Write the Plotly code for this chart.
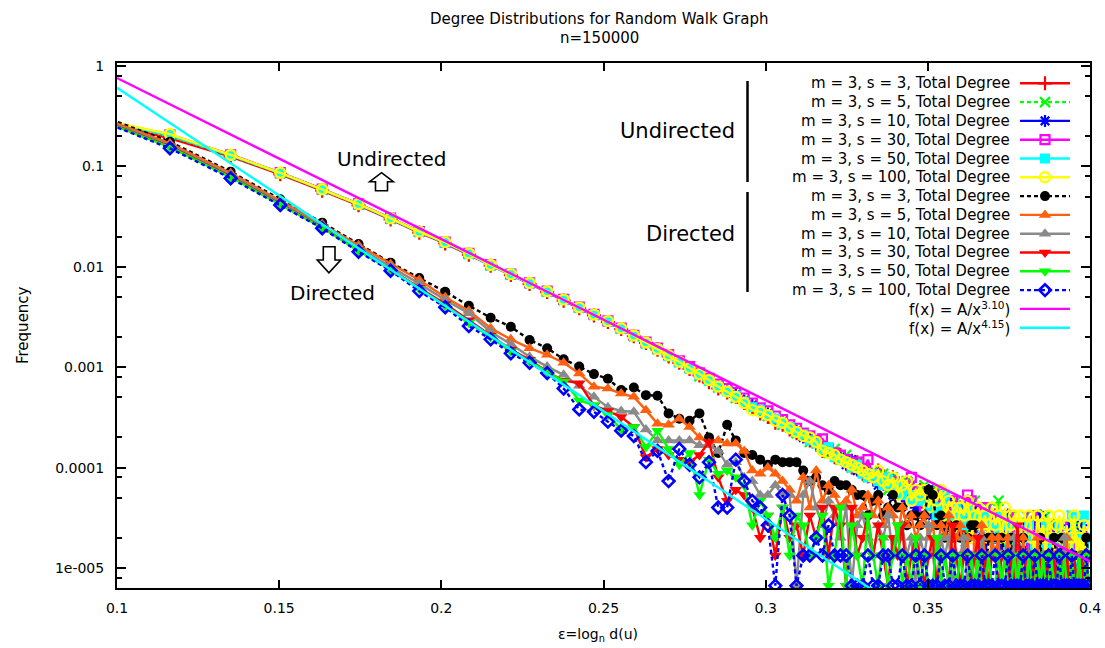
import numpy as np
import plotly.graph_objects as go

# ---------------------------------------------------------------------------
# Degree distributions (node counts per degree) for n = 150000 nodes
# ---------------------------------------------------------------------------
N = 150000

DEGREES = [3, 4, 5, 6, 7, 8, 9, 10, 11, 12,
           13, 14, 15, 16, 17, 18, 19, 20, 21, 22,
           23, 24, 25, 26, 27, 28, 29, 30, 31, 32,
           33, 34, 35, 36, 37, 38, 39, 40, 41, 42,
           43, 44, 45, 46, 47, 48, 49, 50, 51, 52,
           53, 54, 55, 56, 57, 58, 59, 60, 61, 62,
           63, 64, 65, 66, 67, 68, 69, 70, 71, 72,
           73, 74, 75, 76, 77, 78, 79, 80, 81, 82,
           83, 84, 85, 86, 87, 88, 89, 90, 91, 92,
           93, 94, 95, 96, 97, 98, 99, 100, 101, 102,
           103, 104, 105, 106, 107, 108, 109, 110, 111, 112,
           113, 114, 115, 116, 117]

# Undirected graphs, m = 3
UND_S3 = [44000, 28500, 18800, 12500, 8600, 6150, 4450, 3280, 2560, 1980,
          1540, 1240, 1010, 840, 690, 580, 492, 422, 360, 305,
          262, 224, 192, 166, 144, 124, 106, 92, 84, 76,
          66, 58, 52, 48, 42, 40, 36, 33, 31, 28,
          26, 22, 23, 19, 20, 17, 15, 17, 13, 14,
          12, 14, 11, 10, 12, 9, 10, 8, 9, 7,
          9, 8, 6, 8, 5, 7, 7, 4, 6, 5,
          6, 3, 5, 6, 2, 5, 4, 5, 3, 4,
          5, 2, 4, 3, 5, 1, 3, 4, 2, 3,
          2, 4, 1, 3, 2, 4, 1, 2, 3, 1,
          2, 3, 1, 2, 2, 1, 3, 1, 2, 1,
          2, 1, 2, 3, 1]
UND_S5 = [45500, 30000, 19200, 12800, 8800, 6250, 4520, 3330, 2600, 2010,
          1555, 1255, 1025, 848, 702, 588, 498, 428, 362, 306,
          258, 226, 196, 168, 146, 122, 110, 94, 88, 74,
          70, 60, 56, 49, 46, 40, 38, 33, 32, 27,
          29, 24, 21, 23, 18, 20, 15, 17, 14, 12,
          14, 11, 13, 9, 12, 10, 8, 11, 7, 9,
          8, 10, 6, 7, 9, 5, 7, 6, 4, 7,
          5, 6, 3, 5, 7, 4, 3, 5, 6, 2,
          4, 7, 3, 4, 2, 5, 3, 2, 4, 3,
          5, 2, 3, 1, 4, 2, 3, 5, 2, 1,
          3, 2, 4, 1, 2, 3, 1, 5, 2, 1,
          4, 2, 1, 3, 2]
UND_S10 = [45000, 30800, 19400, 12900, 8850, 6300, 4550, 3350, 2620, 2020,
           1560, 1262, 1030, 852, 705, 590, 500, 430, 364, 309,
           262, 230, 194, 171, 148, 128, 112, 97, 88, 80,
           70, 63, 55, 52, 45, 43, 37, 35, 30, 29,
           26, 25, 22, 20, 19, 16, 18, 14, 15, 12,
           13, 10, 12, 11, 8, 10, 9, 7, 10, 6,
           8, 7, 9, 5, 6, 8, 4, 7, 5, 6,
           4, 6, 5, 3, 6, 4, 5, 2, 4, 5,
           3, 4, 2, 5, 3, 4, 1, 3, 2, 4,
           3, 1, 4, 2, 3, 5, 2, 1, 3, 2,
           4, 1, 2, 3, 1, 2, 4, 2, 1, 3,
           2, 4, 1, 2, 1]
UND_S30 = [45500, 31000, 19600, 13000, 8900, 6350, 4580, 3370, 2640, 2040,
           1575, 1270, 1040, 860, 710, 596, 505, 435, 368, 312,
           266, 232, 200, 174, 152, 132, 116, 102, 92, 84,
           74, 66, 59, 55, 49, 45, 40, 37, 33, 31,
           28, 29, 23, 21, 20, 18, 16, 17, 14, 18,
           12, 13, 11, 10, 11, 9, 10, 8, 12, 7,
           9, 6, 8, 7, 5, 8, 6, 5, 7, 4,
           6, 5, 8, 7, 3, 5, 4, 6, 3, 4,
           5, 3, 4, 2, 5, 3, 4, 2, 3, 4,
           2, 3, 5, 2, 4, 1, 3, 2, 4, 2,
           3, 2, 1, 4, 2, 3, 2, 1, 3, 2,
           1, 3, 2, 1, 2]
UND_S50 = [45200, 30600, 19300, 12850, 8820, 6280, 4530, 3340, 2610, 2015,
           1550, 1258, 1028, 846, 700, 586, 497, 428, 361, 306,
           260, 226, 193, 168, 145, 126, 110, 96, 86, 78,
           68, 60, 56, 50, 46, 41, 38, 34, 32, 28,
           26, 23, 24, 19, 18, 17, 15, 16, 13, 12,
           13, 11, 10, 12, 9, 10, 8, 9, 7, 8,
           7, 8, 6, 7, 5, 6, 8, 5, 4, 6,
           5, 4, 6, 3, 5, 4, 3, 5, 4, 2,
           4, 3, 5, 2, 4, 3, 2, 4, 3, 2,
           3, 4, 2, 3, 1, 3, 2, 4, 2, 3,
           2, 3, 4, 1, 2, 3, 2, 5, 1, 2,
           3, 1, 5, 2, 3]
UND_S100 = [45800, 31500, 19500, 12950, 8870, 6330, 4560, 3360, 2640, 2040,
            1565, 1268, 1035, 856, 706, 592, 502, 432, 366, 310,
            264, 228, 197, 170, 147, 128, 112, 96, 86, 76,
            66, 56, 54, 50, 44, 42, 37, 34, 31, 30,
            27, 22, 21, 20, 18, 17, 16, 15, 14, 13,
            12, 14, 11, 10, 12, 8, 10, 11, 7, 9,
            8, 9, 6, 8, 7, 9, 5, 7, 6, 4,
            6, 5, 7, 3, 5, 6, 4, 5, 3, 6,
            4, 5, 3, 6, 2, 4, 5, 3, 5, 2,
            4, 5, 3, 2, 5, 3, 4, 2, 5, 3,
            2, 4, 5, 3, 2, 4, 1, 3, 5, 2,
            3, 2, 4, 1, 2]

# Directed graphs, m = 3
DIR_S3 = [52000, 26400, 13300, 7060, 4130, 2530, 1650, 1160, 848, 615,
          467, 380, 280, 232, 180, 152, 128, 115, 89, 94,
          79, 78, 52, 46, 44, 52, 30, 21, 40, 28,
          21, 20, 18, 16, 18, 17, 17, 17, 14, 11,
          12, 10, 9, 11, 10, 10, 9, 8, 8, 5,
          7, 8, 5, 6, 8, 6, 6, 4, 5, 5,
          4, 5, 9, 8, 4, 5, 3, 4, 3, 4,
          3, 2, 3, 4, 4, 2, 3, 1, 3, 3,
          2, 3, 3, 2, 1, 3, 2, 1, 2, 3,
          2, 1, 2, 2, 1, 3, 1, 2, 1, 2,
          3, 2, 1, 3, 1, 2, 1, 1, 2, 1,
          1, 2, 1, 3, 2]
DIR_S5 = [50000, 25500, 12900, 6850, 4000, 2460, 1600, 1110, 745, 547,
          366, 284, 232, 199, 166, 130, 96, 92, 82, 76,
          56, 41, 40, 46, 38, 30, 26, 28, 26, 26,
          22, 14, 13, 15, 13, 11, 9, 7, 12, 6,
          14, 7, 10, 8, 6, 7, 9, 5, 6, 8,
          5, 7, 4, 6, 5, 3, 6, 4, 5, 3,
          4, 5, 3, 4, 2, 4, 3, 5, 2, 3,
          4, 2, 3, 1, 3, 2, 4, 2, 1, 3,
          2, 3, 1, 2, 3, 1, 2, 2, 1, 3,
          1, 2, 2, 1, 3, 1, 2, 1, 2, 1,
          2, 1, 1, 2, 1, 3, 1, 2, 1, 1,
          2, 1, 1, 2, 1]
DIR_S10 = [48000, 24500, 12300, 6550, 3850, 2330, 1510, 1020, 700, 516,
           339, 255, 191, 152, 126, 98, 76, 60, 55, 54,
           36, 28, 28, 28, 28, 25, 25, 22, 16, 17,
           12, 11, 8, 8, 10, 8, 8, 1, 8, 11,
           6, 4, 7, 5, 3, 6, 1, 4, 5, 3,
           2, 4, 3, 5, 2, 3, 4, 2, 3, 1,
           3, 2, 4, 2, 1, 3, 2, 3, 1, 2,
           2, 3, 1, 2, 2, 1, 3, 1, 2, 1,
           1, 2, 1, 1, 2, 1, 3, 1, 2, 1,
           2, 1, 1, 2, 1, 1, 2, 1, 1, 2,
           1, 1, 2, 1, 3, 1, 1, 2, 1, 1,
           1, 2, 1, 1, 2]
DIR_S30 = [47000, 23800, 11900, 6350, 3720, 2200, 1420, 930, 640, 440,
           310, 225, 178, 135, 110, 104, 62, 55, 48, 38,
           19, 23, 20, 18, 17, 20, 27, 12, 7, 9,
           8, 6, 3, 5, 2, 6, 3, 4, 2, 5,
           3, 6, 2, 6, 4, 1, 6, 2, 3, 5,
           2, 4, 2, 1, 3, 2, 4, 1, 2, 3,
           2, 1, 2, 3, 1, 2, 2, 1, 4, 2,
           1, 2, 2, 1, 2, 3, 1, 2, 1, 2,
           2, 1, 2, 2, 1, 2, 1, 4, 2, 1,
           2, 2, 1, 2, 1, 2, 2, 1, 2, 1,
           2, 1, 2, 2, 1, 2, 1, 2, 2, 1,
           2, 2, 1, 2, 2]
DIR_S50 = [46500, 23300, 11700, 6270, 3680, 2160, 1400, 900, 615, 415,
           300, 215, 172, 135, 108, 70, 63, 50, 36, 38,
           24, 35, 23, 16, 21, 8, 18, 13, 14, 12,
           10, 4, 7, 5, 3, 6, 2, 5, 4, 2,
           3, 5, 1, 2, 6, 1, 4, 2, 1, 5,
           2, 1, 3, 1, 2, 4, 1, 2, 1, 3,
           1, 2, 1, 1, 3, 1, 2, 1, 2, 1,
           2, 1, 1, 2, 1, 2, 1, 1, 2, 1,
           1, 2, 1, 2, 1, 1, 2, 1, 2, 1,
           1, 2, 1, 1, 2, 1, 2, 1, 1, 2,
           1, 1, 2, 1, 2, 1, 1, 2, 1, 1,
           2, 1, 1, 2, 1]
DIR_S100 = [46300, 22700, 11430, 6190, 3630, 2120, 1372, 860, 593, 386,
            284, 206, 166, 131, 92, 57, 54, 43, 35, 31,
            17, 22, 11, 23, 16, 12, 17, 6, 6, 18,
            11, 7, 6, 4, 1, 8, 5, 1, 2, 2,
            3, 2, 4, 2, 2, 2, 1, 1, 1, 2,
            1, 1, 2, 2, 1, 1, 2, 1, 1, 2,
            1, 2, 1, 1, 1, 2, 1, 1, 2, 1,
            1, 1, 2, 1, 1, 1, 2, 1, 1, 1,
            2, 1, 1, 1, 2, 1, 1, 1, 1, 2,
            1, 1, 1, 2, 1, 1, 1, 1, 2, 1,
            1, 1, 2, 1, 1, 1, 1, 2, 1, 1,
            1, 1, 1, 2, 1]

# Power-law fits f(x) = A / x^p in the degree x
FIT_UND_A, FIT_UND_P = 30.55, 3.10
FIT_DIR_A, FIT_DIR_P = 85.5, 4.15

LABELS = ["m = 3, s = 3, Total Degree", "m = 3, s = 5, Total Degree",
          "m = 3, s = 10, Total Degree", "m = 3, s = 30, Total Degree",
          "m = 3, s = 50, Total Degree", "m = 3, s = 100, Total Degree"]
FIT_LABELS = ["f(x) = A/x<sup>3.10</sup>)", "f(x) = A/x<sup>4.15</sup>)"]

# ---------------------------------------------------------------------------
FONT = "DejaVu Sans"
ORANGE = "#ff6010"
GRAY = "#8a8a8a"
LW = 2.4

# (counts, colour, dash, marker symbol, marker size, marker outline width)
STYLES = [
    (UND_S3, "#ff0000", "solid", "cross-thin-open", 10, 2.2),
    (UND_S5, "#00ff00", "4px,3px", "x-thin-open", 10, 2.2),
    (UND_S10, "#0000ff", "solid", "asterisk-open", 10, 2.2),
    (UND_S30, "#ff00ff", "solid", "square-open", 9, 2.2),
    (UND_S50, "#00ffff", "solid", "square", 10, 0),
    (UND_S100, "#ffff00", "solid", "circle-open", 10, 2.4),
    (DIR_S3, "#000000", "4px,3px", "circle", 10, 0),
    (DIR_S5, ORANGE, "solid", "triangle-up", 11, 0),
    (DIR_S10, GRAY, "solid", "triangle-up", 11, 0),
    (DIR_S30, "#ff0000", "solid", "triangle-down", 11, 0),
    (DIR_S50, "#00ff00", "solid", "triangle-down", 11, 0),
    (DIR_S100, "#0000ff", "4px,3px", "diamond-open", 9, 2.6),
]

# Plot-area geometry in page pixels
L, R, T, B = 117, 1090, 63, 588
W, H = R - L, B - T


def xp(px):
    return (px - L) / W


def yp(py):
    return (B - py) / H


deg = np.array(DEGREES, dtype=float)
eps = np.log(deg) / np.log(N)

fig = go.Figure()

for counts, color, dash, sym, size, mlw in STYLES:
    freq = np.array(counts, dtype=float) / N
    fig.add_trace(go.Scatter(
        x=eps, y=freq, mode="lines+markers",
        line=dict(color=color, width=LW, dash=dash),
        marker=dict(symbol=sym, size=size, color=color,
                    line=dict(color=color, width=mlw)),
        showlegend=False, hoverinfo="skip"))

# fitted power laws, drawn over the full x range
eps_fit = np.linspace(0.1, 0.4, 31)
for a, p, color in [(FIT_UND_A, FIT_UND_P, "#ff00ff"),
                    (FIT_DIR_A, FIT_DIR_P, "#00ffff")]:
    fig.add_trace(go.Scatter(
        x=eps_fit, y=a / (N ** eps_fit) ** p, mode="lines",
        line=dict(color=color, width=LW),
        showlegend=False, hoverinfo="skip"))

# ---------------------------------------------------------------------------
# Key (gnuplot style: right-aligned text with the sample to its right)
ROW0, ROWSTEP = 83.3, 18.8
TXT_RIGHT, SAMP_L, SAMP_R = 1012, 1020, 1070
annotations = []
shapes = []

key_items = [(LABELS[i], STYLES[i]) for i in range(6)] + \
            [(LABELS[i], STYLES[6 + i]) for i in range(6)]
for row, (label, (_, color, dash, sym, size, mlw)) in enumerate(key_items):
    ry = ROW0 + ROWSTEP * row
    fig.add_trace(go.Scatter(
        x=[SAMP_L, SAMP_R], y=[ry, ry], xaxis="x2", yaxis="y2", mode="lines",
        line=dict(color=color, width=LW, dash=dash),
        showlegend=False, hoverinfo="skip"))
    fig.add_trace(go.Scatter(
        x=[(SAMP_L + SAMP_R) / 2], y=[ry], xaxis="x2", yaxis="y2",
        mode="markers",
        marker=dict(symbol=sym, size=size, color=color,
                    line=dict(color=color, width=mlw)),
        showlegend=False, hoverinfo="skip"))
    annotations.append(dict(
        x=xp(TXT_RIGHT), y=yp(ry), xref="paper", yref="paper",
        text=label, showarrow=False, xanchor="right", yanchor="middle",
        font=dict(family=FONT, size=15, color="black")))

for row, (label, color) in enumerate(zip(FIT_LABELS, ["#ff00ff", "#00ffff"])):
    ry = ROW0 + ROWSTEP * (12 + row)
    fig.add_trace(go.Scatter(
        x=[SAMP_L, SAMP_R], y=[ry, ry], xaxis="x2", yaxis="y2", mode="lines",
        line=dict(color=color, width=LW),
        showlegend=False, hoverinfo="skip"))
    annotations.append(dict(
        x=xp(TXT_RIGHT), y=yp(ry), xref="paper", yref="paper",
        text=label, showarrow=False, xanchor="right", yanchor="middle",
        font=dict(family=FONT, size=15, color="black")))

# group brackets in the key
for (y0, y1), label, ly in [((81, 182), "Undirected", 131),
                            ((192, 292), "Directed", 234)]:
    shapes.append(dict(type="line", xref="paper", yref="paper",
                       x0=xp(747.5), x1=xp(747.5), y0=yp(y0), y1=yp(y1),
                       line=dict(color="black", width=2.5)))
    annotations.append(dict(
        x=xp(737), y=yp(ly), xref="paper", yref="paper", text=label,
        showarrow=False, xanchor="right", yanchor="middle",
        font=dict(family=FONT, size=21, color="black")))

# in-plot group labels with hollow block arrows
annotations.append(dict(x=xp(392), y=yp(159), xref="paper", yref="paper",
                        text="Undirected", showarrow=False,
                        xanchor="center", yanchor="middle",
                        font=dict(family=FONT, size=20, color="black")))
annotations.append(dict(x=xp(332), y=yp(293), xref="paper", yref="paper",
                        text="Directed", showarrow=False,
                        xanchor="center", yanchor="middle",
                        font=dict(family=FONT, size=20, color="black")))


def block_arrow(pts):
    return "M " + " L ".join(f"{xp(a):.5f},{yp(b):.5f}" for a, b in pts) + " Z"


up_pts = [(381.5, 172.7), (393.3, 181.7), (387.5, 181.7), (387.5, 190.7),
          (375.5, 190.7), (375.5, 181.7), (369.7, 181.7)]
down_pts = [(323.3, 246.7), (335.0, 246.7), (335.0, 260.0), (340.7, 260.0),
            (328.9, 272.7), (317.3, 260.0), (323.3, 260.0)]
for pts in (up_pts, down_pts):
    shapes.append(dict(type="path", xref="paper", yref="paper",
                       path=block_arrow(pts), fillcolor="white",
                       line=dict(color="black", width=1.6)))

# titles
annotations.append(dict(x=xp(599), y=yp(19), xref="paper", yref="paper",
                        text="Degree Distributions for Random Walk Graph",
                        showarrow=False, xanchor="center", yanchor="middle",
                        font=dict(family=FONT, size=15, color="black")))
annotations.append(dict(x=xp(599), y=yp(38), xref="paper", yref="paper",
                        text="n=150000", showarrow=False,
                        xanchor="center", yanchor="middle",
                        font=dict(family=FONT, size=15, color="black")))
annotations.append(dict(x=xp(23), y=yp(325), xref="paper", yref="paper",
                        text="Frequency", showarrow=False, textangle=-90,
                        xanchor="center", yanchor="middle",
                        font=dict(family=FONT, size=15, color="black")))
annotations.append(dict(x=xp(598), y=yp(635), xref="paper", yref="paper",
                        text="ε=log<sub>n</sub> d(u)", showarrow=False,
                        xanchor="center", yanchor="middle",
                        font=dict(family=FONT, size=14, color="black")))

# ---------------------------------------------------------------------------
X_TICKS = [0.1, 0.15, 0.2, 0.25, 0.3, 0.35, 0.4]
X_TICK_TEXT = ["0.1", "0.15", "0.2", "0.25", "0.3", "0.35", "0.4"]
Y_TICKS = [1, 0.1, 0.01, 0.001, 0.0001, 0.00001]
Y_TICK_TEXT = ["1", "0.1", "0.01", "0.001", "0.0001", "1e-005"]
Y_MINOR = [m * 10.0 ** e for e in range(-6, 0) for m in (2, 5, 8)]

y_top = (T - 66) / -100.4
y_bot = -(B - 66) / 100.4

fig.update_layout(
    width=1105, height=648, autosize=False,
    margin=dict(l=L, r=1105 - R, t=T, b=648 - B, pad=0, autoexpand=False),
    paper_bgcolor="white", plot_bgcolor="white",
    showlegend=False,
    font=dict(family=FONT, color="black"),
    xaxis=dict(range=[0.1, 0.4], tickvals=X_TICKS, ticktext=X_TICK_TEXT,
               ticks="inside", ticklen=8, tickwidth=1.5, tickcolor="black",
               showline=True, linewidth=2, linecolor="black",
               mirror="allticks", showgrid=False, zeroline=False,
               automargin=False, ticklabelstandoff=6,
               tickfont=dict(family=FONT, size=14, color="black")),
    yaxis=dict(type="log", range=[y_bot, y_top], tickvals=Y_TICKS,
               ticktext=Y_TICK_TEXT, ticks="inside", ticklen=9,
               tickwidth=1.5, tickcolor="black",
               minor=dict(tickvals=Y_MINOR, ticks="inside", ticklen=5,
                          tickwidth=1.5, tickcolor="black", showgrid=False),
               showline=True, linewidth=2, linecolor="black",
               mirror="allticks", showgrid=False, zeroline=False,
               automargin=False, ticklabelstandoff=8,
               tickfont=dict(family=FONT, size=14, color="black")),
    xaxis2=dict(range=[L, R], overlaying="x", visible=False, anchor="y2"),
    yaxis2=dict(range=[B, T], overlaying="y", visible=False, anchor="x2"),
    annotations=annotations,
    shapes=shapes,
)

fig.write_html("out.html", config={"displayModeBar": False})
